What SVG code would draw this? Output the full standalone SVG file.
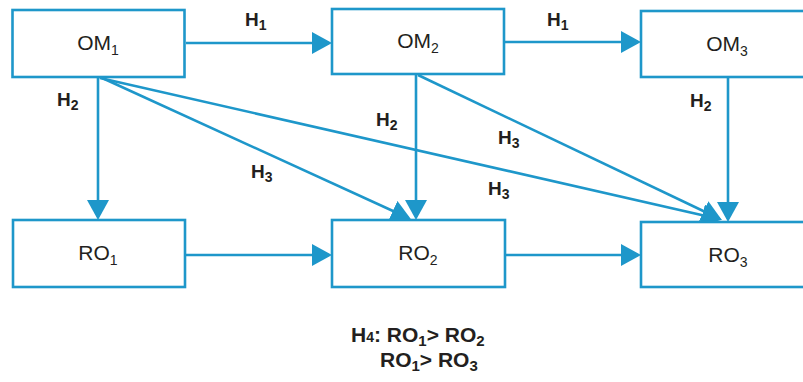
<svg xmlns="http://www.w3.org/2000/svg" width="803" height="382" viewBox="0 0 803 382">
<style>
.box{fill:#fff;stroke:#1e97ca;stroke-width:2.6}
.ln{stroke:#1e97ca;stroke-width:2.6;fill:none;marker-end:url(#ah)}
.nt{font-family:"Liberation Sans",Arial,sans-serif;font-size:21px;fill:#231f20;text-anchor:middle}
.hl{font-family:"Liberation Sans",Arial,sans-serif;font-size:19px;font-weight:bold;fill:#231f20}
.bt{font-family:"Liberation Sans",Arial,sans-serif;font-size:21px;font-weight:bold;fill:#231f20}
.sub{font-size:14px}
.bsub{font-size:15px}
</style>
<defs>
<marker id="ah" markerUnits="userSpaceOnUse" markerWidth="20" markerHeight="22" viewBox="0 0 20 22" refX="17" refY="11" orient="auto">
<path d="M0,0 L20,11 L0,22 z" fill="#1e97ca"/>
</marker>
</defs>
<g id="connectors">
<line class="ln" x1="186" y1="43" x2="329" y2="43"/>
<line class="ln" x1="505" y1="42" x2="638" y2="42"/>
<line class="ln" x1="185" y1="255" x2="329" y2="255"/>
<line class="ln" x1="505" y1="255" x2="638" y2="255"/>
<line class="ln" x1="98" y1="77" x2="98" y2="217"/>
<line class="ln" x1="416" y1="74" x2="416" y2="217"/>
<line class="ln" x1="728" y1="77" x2="728" y2="219"/>
<line class="ln" x1="100" y1="77" x2="408.3" y2="218"/>
<line class="ln" x1="100" y1="78" x2="719" y2="219"/>
<line class="ln" x1="418" y1="75" x2="719" y2="218.5"/>
</g>
<g id="OM1"><rect class="box" x="12.5" y="10" width="172" height="67"/><text class="nt" x="98" y="50">OM<tspan class="sub" dy="5">1</tspan></text></g>
<g id="OM2"><rect class="box" x="332" y="9" width="172" height="65"/><text class="nt" x="418" y="48">OM<tspan class="sub" dy="5">2</tspan></text></g>
<g id="OM3"><rect class="box" x="641" y="11" width="175" height="66"/><text class="nt" x="727" y="51">OM<tspan class="sub" dy="5">3</tspan></text></g>
<g id="RO1"><rect class="box" x="13" y="220" width="172" height="67"/><text class="nt" x="98" y="260">RO<tspan class="sub" dy="5">1</tspan></text></g>
<g id="RO2"><rect class="box" x="332" y="220" width="173" height="67"/><text class="nt" x="418" y="260">RO<tspan class="sub" dy="5">2</tspan></text></g>
<g id="RO3"><rect class="box" x="641" y="222" width="175" height="65"/><text class="nt" x="728" y="262">RO<tspan class="sub" dy="5">3</tspan></text></g>
<g id="labels">
<text class="hl" x="245" y="26">H<tspan class="sub" dy="4">1</tspan></text>
<text class="hl" x="547" y="26">H<tspan class="sub" dy="4">1</tspan></text>
<text class="hl" x="57" y="106">H<tspan class="sub" dy="4">2</tspan></text>
<text class="hl" x="376" y="126">H<tspan class="sub" dy="4">2</tspan></text>
<text class="hl" x="690" y="107">H<tspan class="sub" dy="4">2</tspan></text>
<text class="hl" x="251" y="178">H<tspan class="sub" dy="4">3</tspan></text>
<text class="hl" x="498" y="144">H<tspan class="sub" dy="4">3</tspan></text>
<text class="hl" x="488" y="195">H<tspan class="sub" dy="4">3</tspan></text>
<text class="bt" x="351" y="342">H<tspan font-size="14">4</tspan>: RO<tspan class="bsub" dy="4">1</tspan><tspan dy="-4">&gt; RO</tspan><tspan class="bsub" dy="4">2</tspan></text>
<text class="bt" x="380" y="367">RO<tspan class="bsub" dy="4">1</tspan><tspan dy="-4">&gt; RO</tspan><tspan class="bsub" dy="4">3</tspan></text>
</g>
</svg>
